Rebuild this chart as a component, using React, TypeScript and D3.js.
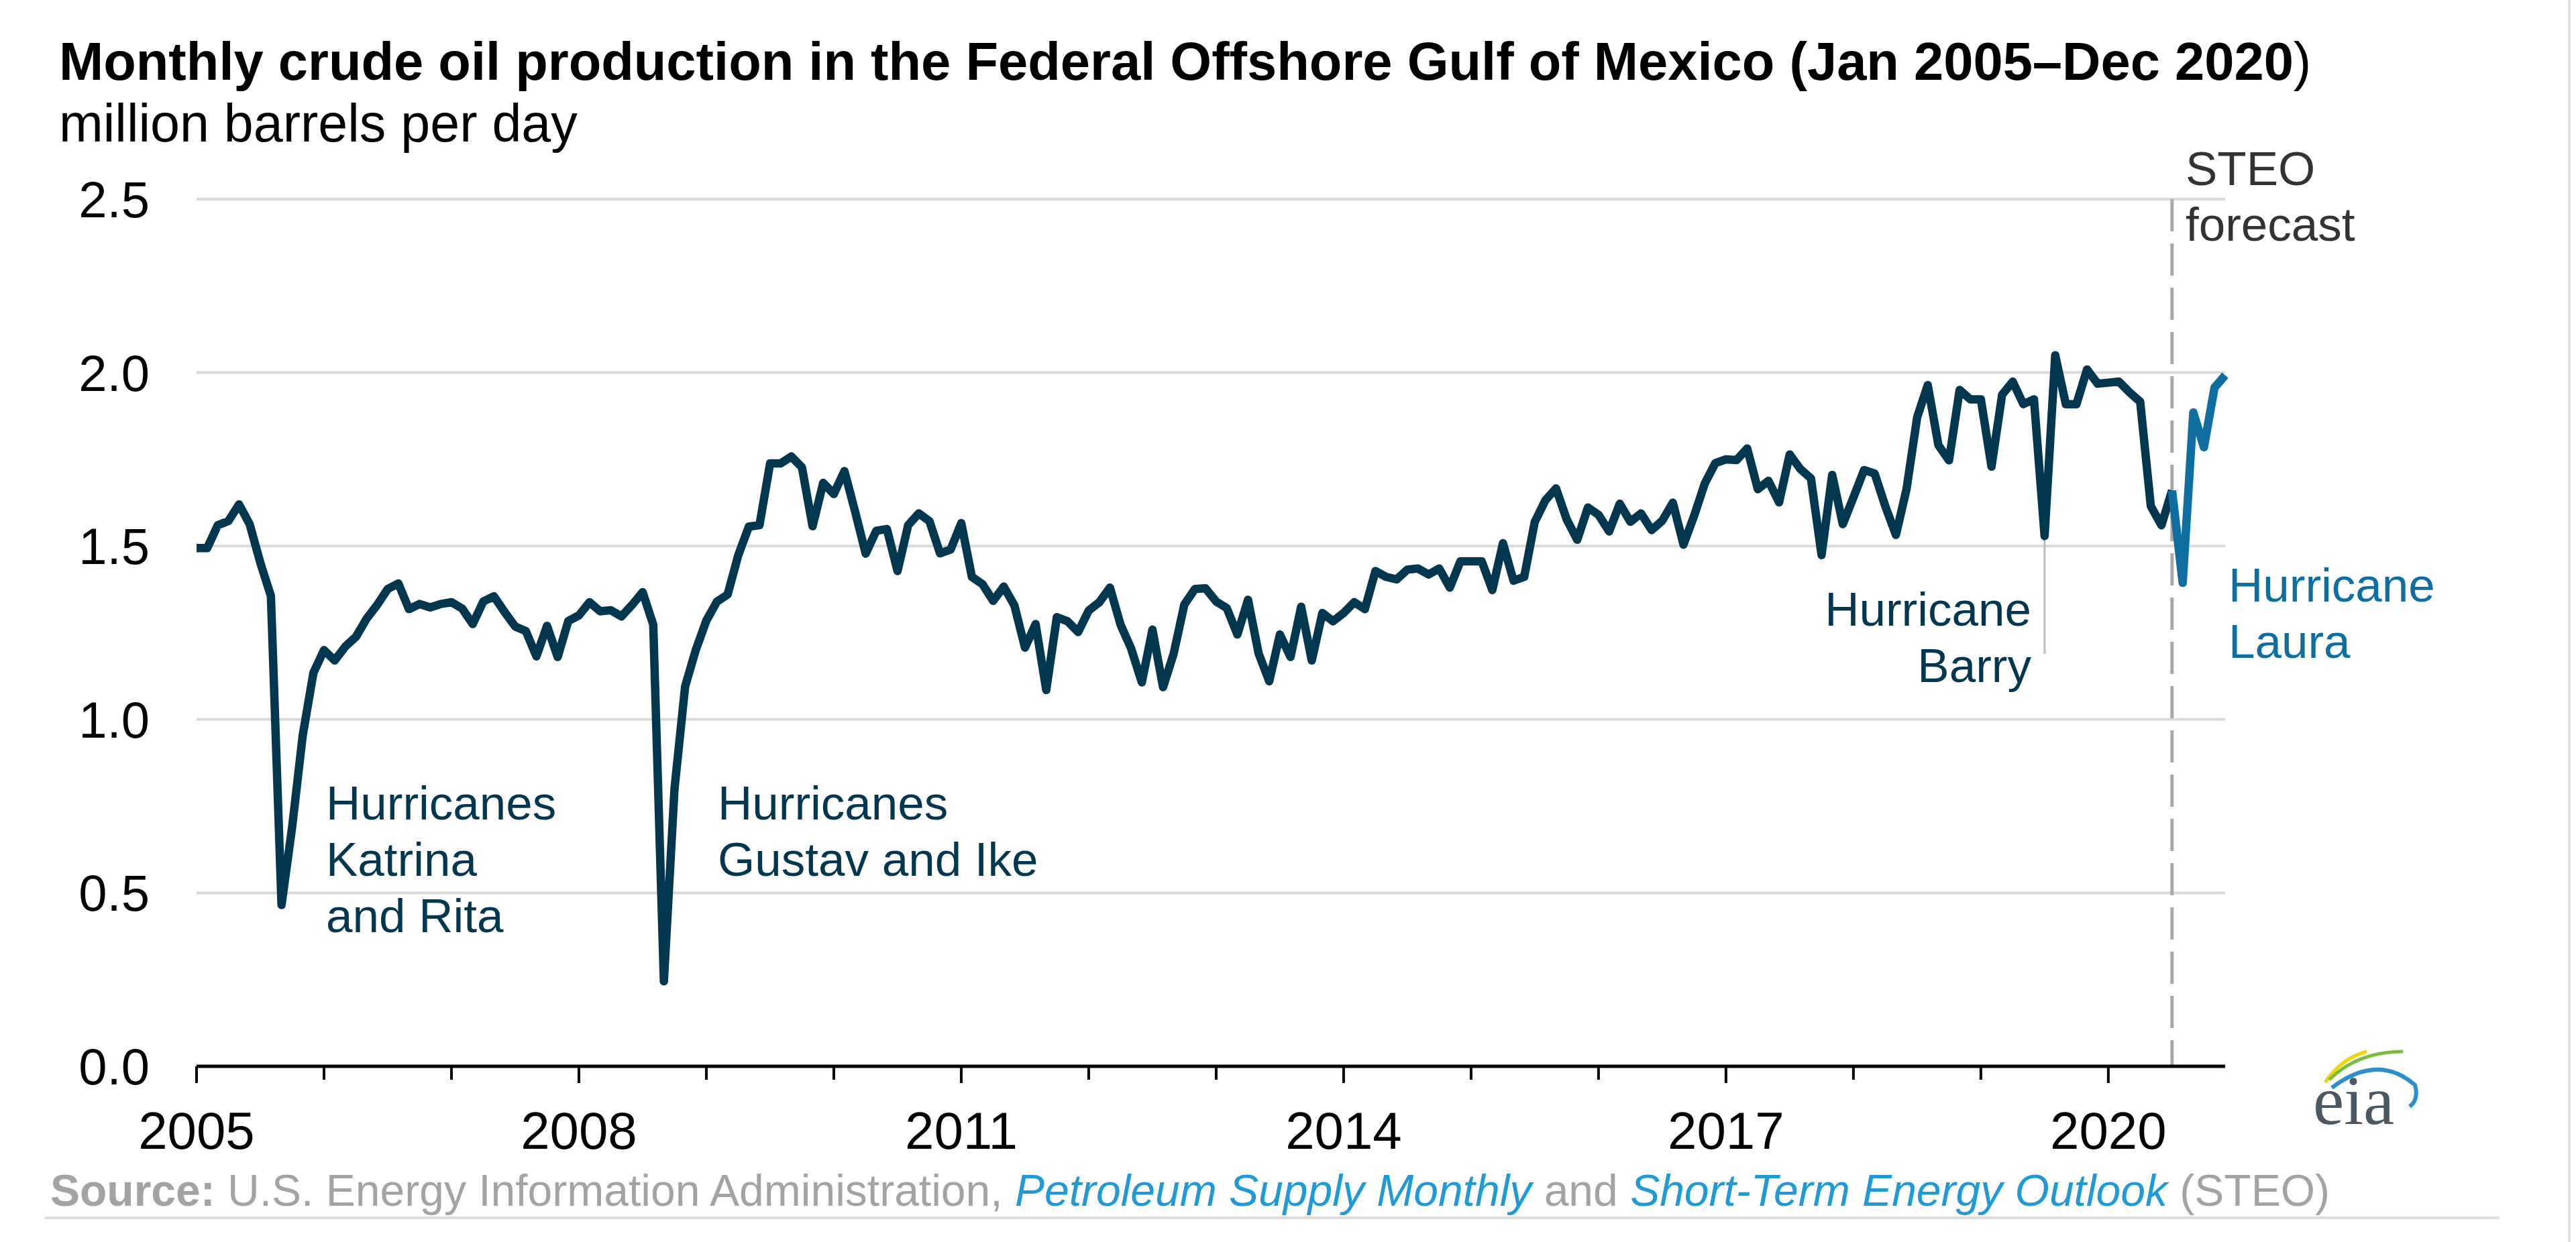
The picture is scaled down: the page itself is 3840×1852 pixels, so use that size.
import React from 'react';
import * as d3 from 'd3';

// Monthly crude oil production, million barrels per day (Jan 2005 – Dec 2020)
const prod2005 = [1.494, 1.494, 1.56, 1.572, 1.62, 1.563, 1.452, 1.356, 0.465, 0.69, 0.955, 1.134];
const prod2006 = [1.2, 1.17, 1.21, 1.238, 1.29, 1.33, 1.376, 1.392, 1.318, 1.333, 1.323, 1.333];
const prod2007 = [1.338, 1.32, 1.275, 1.34, 1.355, 1.31, 1.268, 1.255, 1.182, 1.27, 1.18, 1.284];
const prod2008 = [1.3, 1.338, 1.312, 1.315, 1.297, 1.33, 1.367, 1.273, 0.245, 0.8, 1.095, 1.2];
const prod2009 = [1.285, 1.34, 1.36, 1.473, 1.556, 1.56, 1.738, 1.738, 1.758, 1.727, 1.557, 1.682];
const prod2010 = [1.65, 1.716, 1.6, 1.478, 1.544, 1.549, 1.428, 1.56, 1.594, 1.572, 1.479, 1.49];
const prod2011 = [1.566, 1.411, 1.39, 1.342, 1.383, 1.329, 1.207, 1.275, 1.085, 1.295, 1.283, 1.252];
const prod2012 = [1.314, 1.338, 1.38, 1.273, 1.204, 1.107, 1.259, 1.093, 1.19, 1.331, 1.376, 1.378];
const prod2013 = [1.34, 1.321, 1.245, 1.345, 1.19, 1.11, 1.245, 1.18, 1.325, 1.17, 1.307, 1.283];
const prod2014 = [1.307, 1.338, 1.318, 1.428, 1.411, 1.404, 1.432, 1.435, 1.418, 1.435, 1.38, 1.456];
const prod2015 = [1.456, 1.456, 1.373, 1.508, 1.4, 1.411, 1.57, 1.632, 1.666, 1.577, 1.518, 1.611];
const prod2016 = [1.59, 1.542, 1.622, 1.57, 1.594, 1.546, 1.573, 1.625, 1.504, 1.587, 1.68, 1.739];
const prod2017 = [1.75, 1.748, 1.781, 1.664, 1.688, 1.626, 1.764, 1.722, 1.695, 1.474, 1.705, 1.563];
const prod2018 = [1.64, 1.719, 1.709, 1.615, 1.532, 1.664, 1.871, 1.964, 1.791, 1.747, 1.95, 1.923];
const prod2019 = [1.923, 1.729, 1.936, 1.974, 1.909, 1.923, 1.529, 2.05, 1.909, 1.909, 2.009, 1.968];
const prod2020 = [1.971, 1.974, 1.943, 1.916, 1.615, 1.56, 1.66, 1.394, 1.885, 1.785, 1.957, 1.992];

const firstYear = 2005;
const forecastStart = { year: 2020, month: 7 }; // STEO forecast begins after Jul 2020
const yTicks = [0, 0.5, 1.0, 1.5, 2.0, 2.5];
const xLabelYears = [2005, 2008, 2011, 2014, 2017, 2020];
const tickYears = d3.range(2005, 2021);
const barryMonth = { year: 2019, month: 7 };

const allValues = [
  ...prod2005, ...prod2006, ...prod2007, ...prod2008, ...prod2009, ...prod2010,
  ...prod2011, ...prod2012, ...prod2013, ...prod2014, ...prod2015, ...prod2016,
  ...prod2017, ...prod2018, ...prod2019, ...prod2020,
];

const idx = (year: number, month: number) => (year - firstYear) * 12 + (month - 1);

const FONT = '"Liberation Sans", Arial, Helvetica, sans-serif';
const NAVY = '#03374f';
const BLUE = '#0d6e9f';
const LINK = '#1f9ad6';
const GREY = '#a3a3a3';

export default function App() {
  const W = 3840;
  const H = 1852;
  const left = 293;
  const right = 3317;
  const top = 297;
  const bottom = 1590;

  const x = d3.scaleLinear().domain([0, allValues.length - 1]).range([left, right]);
  const y = d3.scaleLinear().domain([0, 2.5]).range([bottom, top]);

  const fIdx = idx(forecastStart.year, forecastStart.month);
  const pts = allValues.map((v, i) => [i, v] as [number, number]);
  const hist = pts.slice(0, fIdx + 1);
  const fore = pts.slice(fIdx);
  const line = d3
    .line<[number, number]>()
    .x((d) => x(d[0]))
    .y((d) => y(d[1]));

  const bIdx = idx(barryMonth.year, barryMonth.month);
  const fx = x(fIdx);

  return (
    <svg
      width={W}
      height={H}
      viewBox={`0 0 ${W} ${H}`}
      style={{ position: 'fixed', left: 0, top: 0, background: '#fff', fontFamily: FONT }}
    >
      <rect x={0} y={0} width={W} height={H} fill="#fff" />
      {/* right border */}
      <line x1={3830} x2={3830} y1={0} y2={H} stroke="#d6d6d6" strokeWidth={3} />

      {/* title */}
      <text x={88} y={119} fontSize={79.5} fontWeight="bold" fill="#000">
        Monthly crude oil production in the Federal Offshore Gulf of Mexico (Jan 2005–Dec 2020
        <tspan fontWeight="normal">)</tspan>
      </text>
      <text x={88} y={211} fontSize={79} fill="#000">
        million barrels per day
      </text>

      {/* gridlines */}
      {yTicks
        .filter((t) => t > 0)
        .map((t) => (
          <line key={t} x1={left} x2={right} y1={y(t)} y2={y(t)} stroke="#d9d9d9" strokeWidth={4} />
        ))}

      {/* y tick labels */}
      {yTicks.map((t) => (
        <text key={t} x={223} y={y(t) + 27} fontSize={76} textAnchor="end" fill="#000">
          {d3.format('.1f')(t)}
        </text>
      ))}

      {/* forecast divider */}
      <line
        x1={fx}
        x2={fx}
        y1={top}
        y2={bottom}
        stroke="#a8a8a8"
        strokeWidth={5}
        strokeDasharray="48 18"
      />

      {/* Barry leader */}
      <line
        x1={x(bIdx)}
        x2={x(bIdx)}
        y1={y(allValues[bIdx])}
        y2={975}
        stroke="#bdbdbd"
        strokeWidth={3}
      />

      {/* data lines */}
      <path d={line(hist) || ''} fill="none" stroke={NAVY} strokeWidth={12.5} strokeLinejoin="round" />
      <path d={line(fore) || ''} fill="none" stroke={BLUE} strokeWidth={12.5} strokeLinejoin="round" />

      {/* x axis */}
      <line x1={left} x2={right} y1={bottom} y2={bottom} stroke="#000" strokeWidth={5} />
      {tickYears.map((yr) => {
        const tx = x(idx(yr, 1));
        const major = xLabelYears.includes(yr);
        return (
          <line key={yr} x1={tx} x2={tx} y1={bottom} y2={bottom + (major ? 25 : 20)} stroke="#000" strokeWidth={4} />
        );
      })}
      {xLabelYears.map((yr) => (
        <text key={yr} x={x(idx(yr, 1))} y={1713} fontSize={78} textAnchor="middle" fill="#000">
          {yr}
        </text>
      ))}

      {/* annotations */}
      <text fontSize={71} fill={NAVY}>
        <tspan x={486} y={1222}>Hurricanes</tspan>
        <tspan x={486} y={1306}>Katrina</tspan>
        <tspan x={486} y={1390}>and Rita</tspan>
      </text>
      <text fontSize={71} fill={NAVY}>
        <tspan x={1070} y={1222}>Hurricanes</tspan>
        <tspan x={1070} y={1306}>Gustav and Ike</tspan>
      </text>
      <text fontSize={71} fill={NAVY} textAnchor="end">
        <tspan x={3028} y={933}>Hurricane</tspan>
        <tspan x={3028} y={1017}>Barry</tspan>
      </text>
      <text fontSize={71} fill={BLUE}>
        <tspan x={3322} y={897}>Hurricane</tspan>
        <tspan x={3322} y={981}>Laura</tspan>
      </text>
      <text fontSize={71} fill="#333">
        <tspan x={3258} y={276}>STEO</tspan>
        <tspan x={3258} y={359}>forecast</tspan>
      </text>

      {/* eia logo */}
      <g>
        <path d="M3466,1614 Q3490,1578 3528,1568" fill="none" stroke="#f2d600" strokeWidth={5} />
        <path d="M3472,1610 Q3515,1568 3582,1568" fill="none" stroke="#7dbb3c" strokeWidth={5} />
        <path d="M3476,1622 Q3545,1570 3600,1618 Q3606,1640 3592,1650" fill="none" stroke="#2a8fcf" strokeWidth={6} />
        <text x={3448} y={1676} fontSize={104} fill="#4b5863" fontFamily='"Liberation Serif", "DejaVu Serif", serif'>
          eia
        </text>
      </g>

      {/* source */}
      <text x={75} y={1798} fontSize={66} fill={GREY}>
        <tspan fontWeight="bold">Source:</tspan>
        <tspan> U.S. Energy Information Administration, </tspan>
        <tspan fill={LINK} fontStyle="italic">Petroleum Supply Monthly</tspan>
        <tspan> and </tspan>
        <tspan fill={LINK} fontStyle="italic">Short-Term Energy Outlook</tspan>
        <tspan> (STEO)</tspan>
      </text>
      <line x1={67} x2={3726} y1={1816} y2={1816} stroke="#dcdcdc" strokeWidth={4} />
    </svg>
  );
}
